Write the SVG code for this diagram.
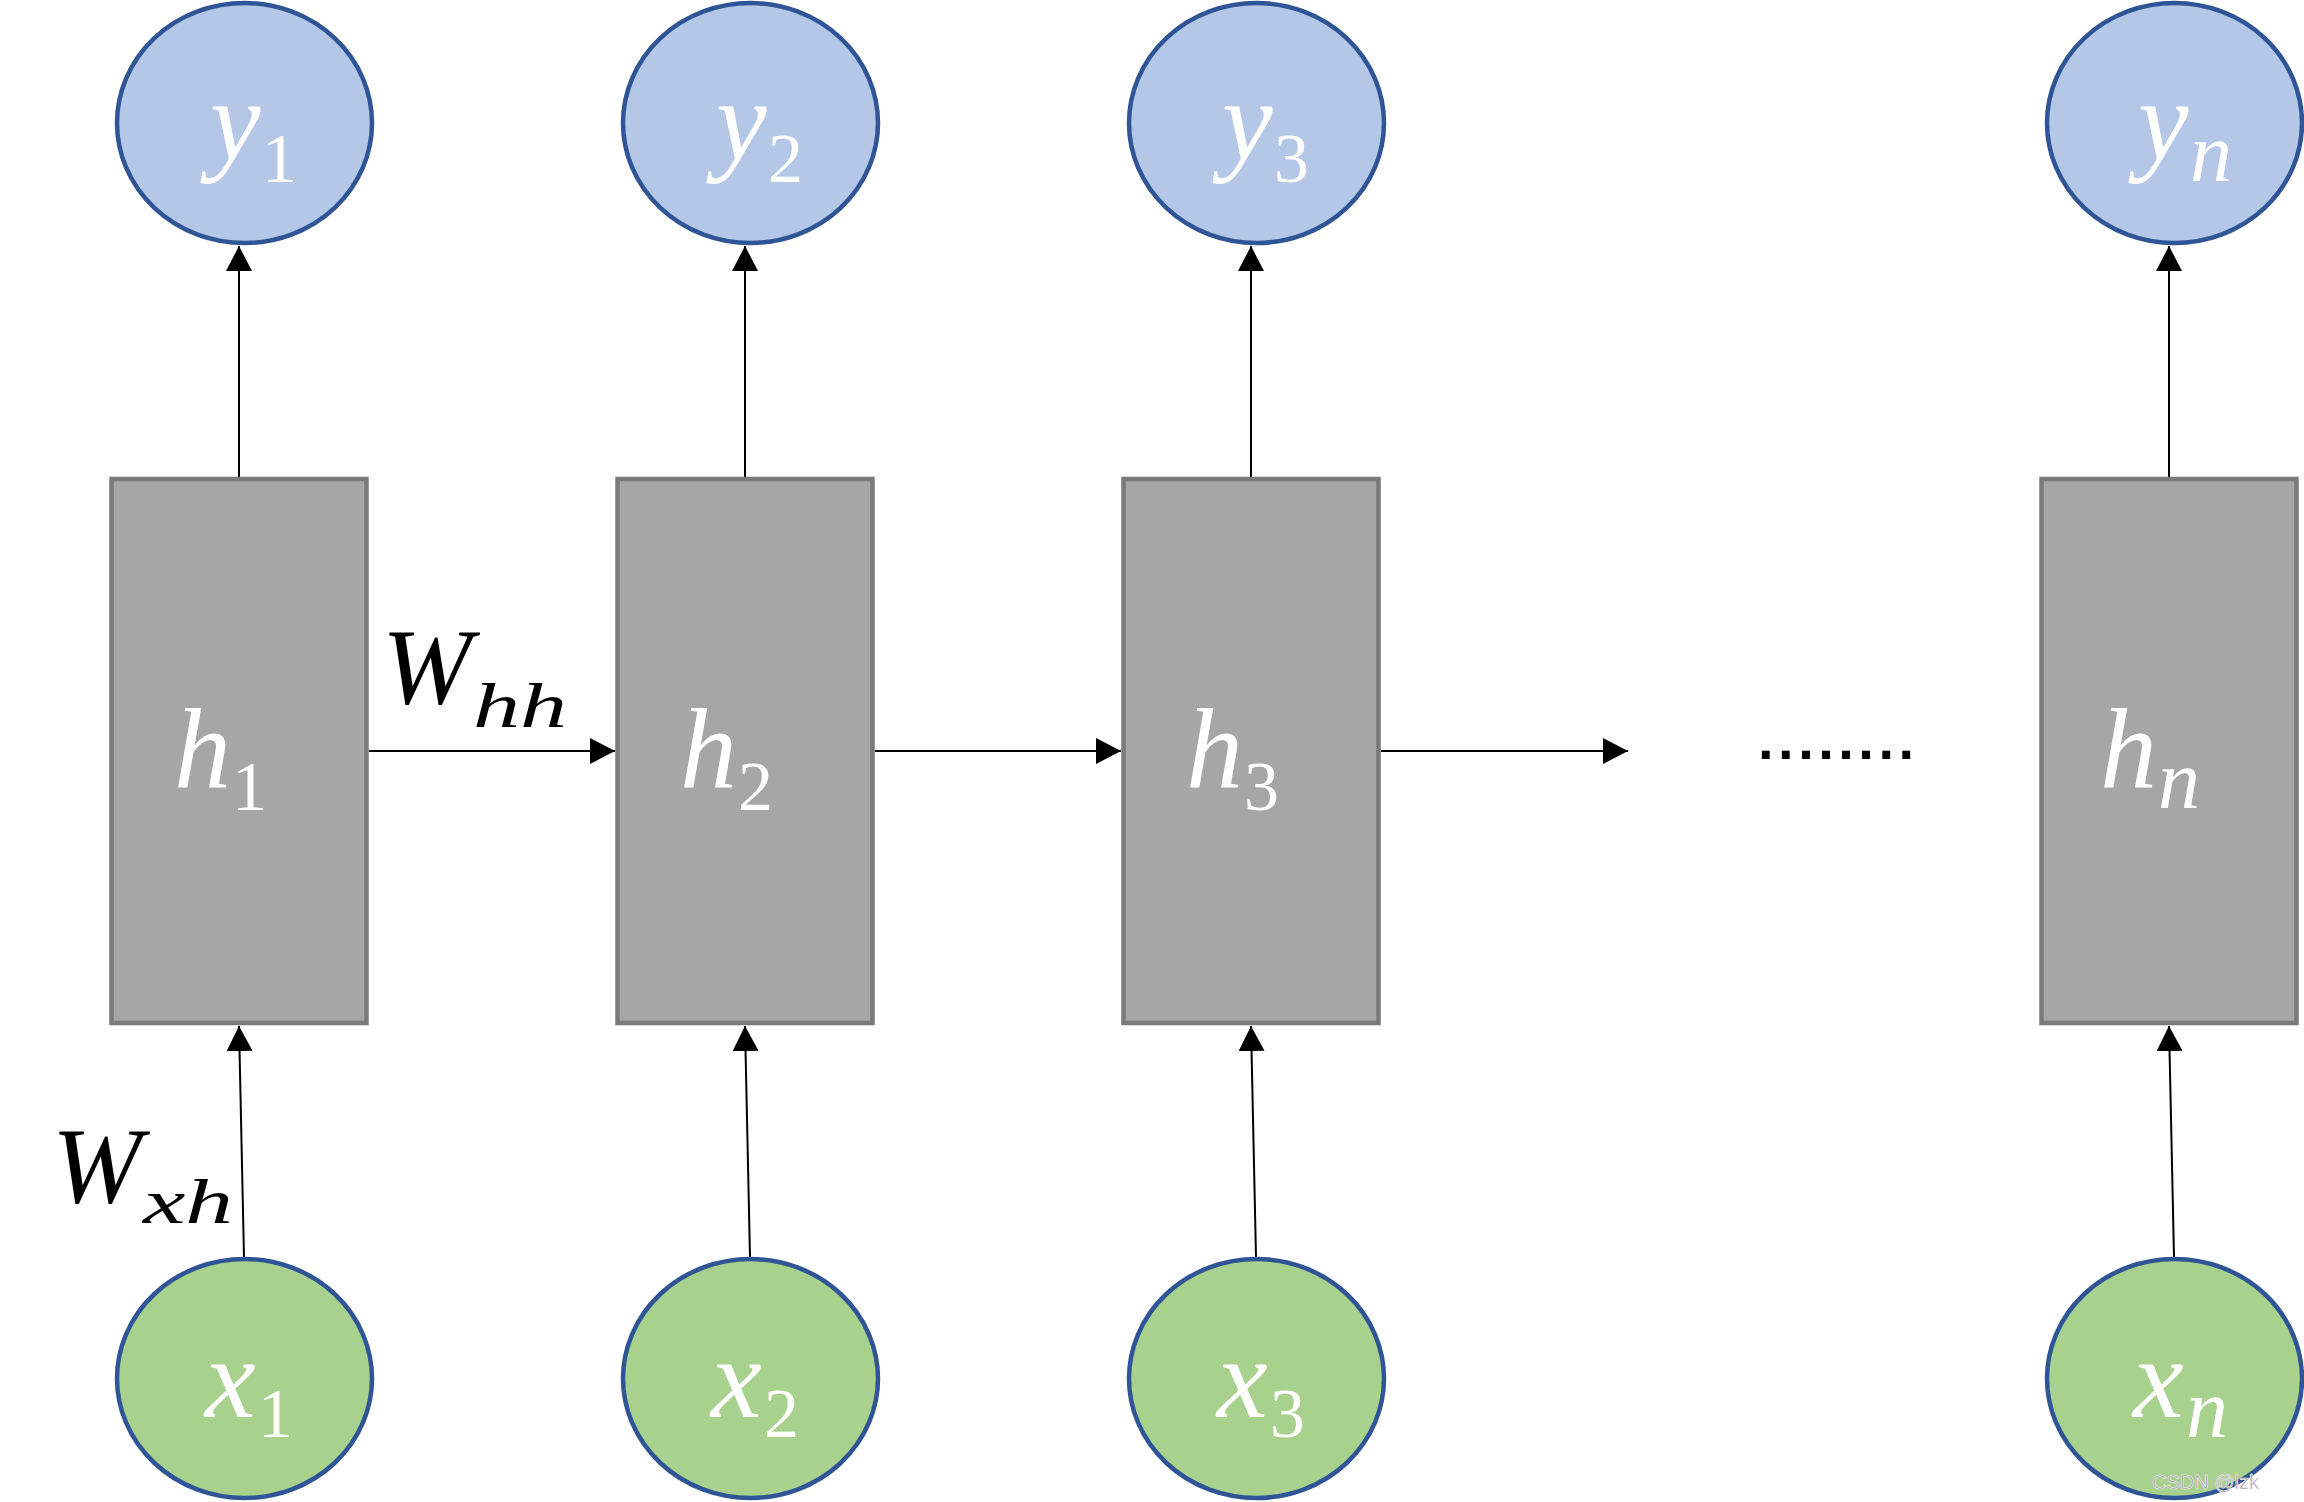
<svg xmlns="http://www.w3.org/2000/svg" width="2304" height="1502" viewBox="0 0 2304 1502">
<style>
.bg{fill:#ffffff}
.yn{fill:#b4c7e7;stroke:#2f5597;stroke-width:4.5}
.xn{fill:#a9d18e;stroke:#2f5597;stroke-width:4.5}
.hn{fill:#a6a6a6;stroke:#7a7a7a;stroke-width:4.5}
.lbl{font-family:"Liberation Serif",serif;fill:#ffffff}
.it{font-style:italic}
.main{font-size:114px}
.sub{font-size:70px}
.subn{font-size:84px;font-style:italic}
.blk{fill:#000000}
.conn{stroke:#000000;stroke-width:2;fill:none;marker-end:url(#ah)}
.dots{font-family:"Liberation Sans",sans-serif;font-size:56px;fill:#000000;font-weight:bold}
.wm{font-family:"Liberation Sans",Arial,sans-serif;font-size:20px;fill:#a0a0a0;stroke:#f0f0f0;stroke-width:0.6}
</style>
<defs>
<marker id="ah" viewBox="0 0 25 26" refX="25" refY="13" markerWidth="25" markerHeight="26" markerUnits="userSpaceOnUse" orient="auto">
<path d="M0,0 L25,13 L0,26 Z" fill="#000000"/>
</marker>
</defs>
<rect class="bg" x="0" y="0" width="2304" height="1502"/>

<g id="connectors">
<line class="conn" x1="239" y1="477" x2="239" y2="246"/>
<line class="conn" x1="745" y1="477" x2="745" y2="246"/>
<line class="conn" x1="1251" y1="477" x2="1251" y2="246"/>
<line class="conn" x1="2169" y1="477" x2="2169" y2="246"/>
<line class="conn" x1="244" y1="1257" x2="239" y2="1026"/>
<line class="conn" x1="750" y1="1257" x2="745" y2="1026"/>
<line class="conn" x1="1256" y1="1257" x2="1251" y2="1026"/>
<line class="conn" x1="2174" y1="1257" x2="2169" y2="1026"/>
<line class="conn" x1="369" y1="751" x2="615" y2="751"/>
<line class="conn" x1="875" y1="751" x2="1121" y2="751"/>
<line class="conn" x1="1381" y1="751" x2="1628" y2="751"/>
</g>

<g id="y1">
<ellipse class="yn" cx="244.5" cy="123" rx="127.5" ry="120"/>
<text class="lbl"><tspan class="it main" x="210" y="160">y</tspan><tspan class="sub" x="262" y="182">1</tspan></text>
</g>
<g id="y2">
<ellipse class="yn" cx="750.5" cy="123" rx="127.5" ry="120"/>
<text class="lbl"><tspan class="it main" x="716" y="160">y</tspan><tspan class="sub" x="768" y="182">2</tspan></text>
</g>
<g id="y3">
<ellipse class="yn" cx="1256.5" cy="123" rx="127.5" ry="120"/>
<text class="lbl"><tspan class="it main" x="1222" y="160">y</tspan><tspan class="sub" x="1274" y="182">3</tspan></text>
</g>
<g id="yn">
<ellipse class="yn" cx="2174.5" cy="123" rx="127.5" ry="120"/>
<text class="lbl"><tspan class="it main" x="2138" y="160">y</tspan><tspan class="subn" x="2190" y="181">n</tspan></text>
</g>

<g id="h1">
<rect class="hn" x="111.5" y="479" width="255" height="544"/>
<text class="lbl"><tspan class="it main" x="174" y="788">h</tspan><tspan class="sub" x="232" y="810">1</tspan></text>
</g>
<g id="h2">
<rect class="hn" x="617.5" y="479" width="255" height="544"/>
<text class="lbl"><tspan class="it main" x="680" y="788">h</tspan><tspan class="sub" x="738" y="810">2</tspan></text>
</g>
<g id="h3">
<rect class="hn" x="1123.5" y="479" width="255" height="544"/>
<text class="lbl"><tspan class="it main" x="1186" y="788">h</tspan><tspan class="sub" x="1244" y="810">3</tspan></text>
</g>
<g id="hn">
<rect class="hn" x="2041.5" y="479" width="255" height="544"/>
<text class="lbl"><tspan class="it main" x="2100" y="788">h</tspan><tspan class="subn" x="2158" y="808">n</tspan></text>
</g>

<g id="x1">
<ellipse class="xn" cx="244.5" cy="1378.5" rx="127.5" ry="119.5"/>
<text class="lbl"><tspan class="it main" x="205" y="1417">x</tspan><tspan class="sub" x="258" y="1437">1</tspan></text>
</g>
<g id="x2">
<ellipse class="xn" cx="750.5" cy="1378.5" rx="127.5" ry="119.5"/>
<text class="lbl"><tspan class="it main" x="711" y="1417">x</tspan><tspan class="sub" x="764" y="1437">2</tspan></text>
</g>
<g id="x3">
<ellipse class="xn" cx="1256.5" cy="1378.5" rx="127.5" ry="119.5"/>
<text class="lbl"><tspan class="it main" x="1217" y="1417">x</tspan><tspan class="sub" x="1270" y="1437">3</tspan></text>
</g>
<g id="xn">
<ellipse class="xn" cx="2174.5" cy="1378.5" rx="127.5" ry="119.5"/>
<text class="lbl"><tspan class="it main" x="2133" y="1417">x</tspan><tspan class="subn" x="2186" y="1437">n</tspan></text>
</g>

<g id="label-whh">
<text class="lbl blk"><tspan class="it" font-size="108" x="382" y="703">W</tspan><tspan class="it" font-size="64" x="473" y="727" textLength="94" lengthAdjust="spacingAndGlyphs">hh</tspan></text>
</g>
<g id="label-wxh">
<text class="lbl blk"><tspan class="it" font-size="108" x="52" y="1202">W</tspan><tspan class="it" font-size="64" x="143" y="1223" textLength="90" lengthAdjust="spacingAndGlyphs">xh</tspan></text>
</g>
<g id="ellipsis">
<text class="dots" x="1758" y="759" textLength="156" lengthAdjust="spacing">........</text>
</g>
<text class="wm" x="2152" y="1489">CSDN @lzk</text>
</svg>
